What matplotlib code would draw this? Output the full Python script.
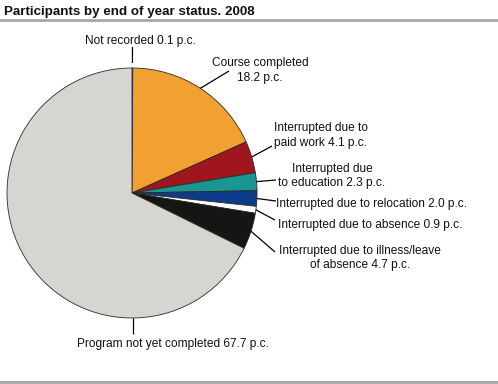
import numpy as np
import matplotlib
matplotlib.use("Agg")
import matplotlib.pyplot as plt

plt.rcParams['font.family'] = ['Liberation Sans', 'DejaVu Sans']

categories = ["Not recorded", "Course completed", "Interrupted due to paid work",
              "Interrupted due to education", "Interrupted due to relocation",
              "Interrupted due to absence", "Interrupted due to illness/leave of absence",
              "Program not yet completed"]
values = [0.1, 18.2, 4.1, 2.3, 2.0, 0.9, 4.7, 67.7]
labels = ["Not recorded 0.1 p.c.", "Course completed\n18.2 p.c.",
          "Interrupted due to\npaid work 4.1 p.c.", "Interrupted due\nto education 2.3 p.c.",
          "Interrupted due to relocation 2.0 p.c.", "Interrupted due to absence 0.9 p.c.",
          "Interrupted due to illness/leave\nof absence 4.7 p.c.",
          "Program not yet completed 67.7 p.c."]
colors = ["#d6d5d1", "#f2a031", "#a0161f", "#19968f", "#0d3c8a", "#ffffff", "#141614", "#d6d5d1"]

W, H = 498, 384
fig = plt.figure(figsize=(W / 100, H / 100), dpi=100)
ax = fig.add_axes([0, 0, 1, 1])

cx, cy, r = 132, H - 193, 125
wedges, _ = ax.pie(values, colors=colors, startangle=90, counterclock=False,
                   center=(cx, cy), radius=r, frame=True,
                   wedgeprops=dict(edgecolor='#2a2a2a', linewidth=0.6))
ax.set_xlim(0, W)
ax.set_ylim(0, H)
ax.set_aspect('equal')
ax.axis('off')

# label layout: (text x, text y in pixels from top, ha, leader end x, leader end y, gap from rim)
layout = [
    (140, 41, 'center', 132.5, 47, 5),
    (260, 70.5, 'center', 229, 71, 0),
    (321, 135.5, 'center', 272, 146, 0),
    (332, 176, 'center', 276, 180, 0),
    (276, 204, 'left', 276, 201, 0),
    (278, 225, 'left', 275, 220, 0),
    (360, 258, 'center', 275, 252, 0),
    (173, 344, 'center', 133, 334, 0),
]
for w, lab, (tx, ty, ha, ex, ey, gap) in zip(wedges, labels, layout):
    if (w.theta2 - w.theta1) % 360 > 180:
        # large wedge: leader drops vertically from the rim below
        ang = -np.arccos((ex - cx) / r)
    else:
        ang = np.deg2rad((w.theta1 + w.theta2) / 2)
    sx, sy = cx + (r + gap) * np.cos(ang), cy + (r + gap) * np.sin(ang)
    ax.plot([sx, ex], [sy, H - ey], color='black', lw=0.9, solid_capstyle='butt')
    ax.text(tx, H - ty, lab, ha=ha, va='center', fontsize=8.6, color='#111111',
            linespacing=1.32, multialignment='center')

fig.text(4 / W, 1 - 12 / H, "Participants by end of year status. 2008",
         fontsize=9.6, fontweight='bold', ha='left', va='center', color='#111111')
fig.add_artist(plt.Line2D([0, 1], [1 - 20 / H, 1 - 20 / H], color='#a6a6a6', lw=2,
                          transform=fig.transFigure))
fig.add_artist(plt.Line2D([0, 1], [1 - 382 / H, 1 - 382 / H], color='#a6a6a6', lw=2,
                          transform=fig.transFigure))

fig.savefig("out.png", dpi=100)
